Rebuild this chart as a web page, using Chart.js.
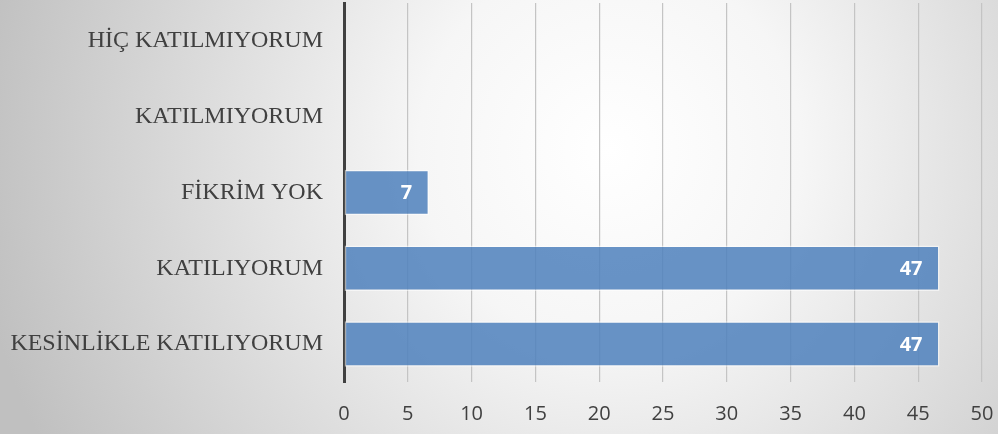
<!DOCTYPE html>
<html>
<head>
<meta charset="utf-8">
<script src="https://cdn.jsdelivr.net/npm/chart.js@4"></script>
<style>
  html, body { margin: 0; padding: 0; background: #fff; }
  #wrap { width: 998px; height: 434px; position: relative; }
</style>
</head>
<body>
<div id="wrap"><canvas id="c"></canvas></div>
<script>
// survey answers, top to bottom as shown
const categories = ["HİÇ KATILMIYORUM", "KATILMIYORUM", "FİKRİM YOK", "KATILIYORUM", "KESİNLİKLE KATILIYORUM"];
const percentValues = [0, 0, 6.67, 46.67, 46.67];
const xTicks = [0, 5, 10, 15, 20, 25, 30, 35, 40, 45, 50];

// soft radial background like the office chart style
const bgPlugin = {
  id: "bg",
  beforeDraw(chart){
    const { ctx, width, height } = chart;
    const g = ctx.createRadialGradient(610, 150, 0, 610, 150, 640);
    g.addColorStop(0, "#ffffff");
    g.addColorStop(0.3, "#f6f6f6");
    g.addColorStop(1, "#c0c0c0");
    ctx.save();
    ctx.fillStyle = g;
    ctx.fillRect(0, 0, width, height);
    ctx.restore();
  }
};

// white value labels at the inner end of each bar
const labelPlugin = {
  id: "barLabels",
  afterDatasetsDraw(chart){
    const { ctx } = chart;
    const meta = chart.getDatasetMeta(0);
    ctx.save();
    ctx.fillStyle = "#ffffff";
    ctx.font = "bold 20px 'Open Sans', sans-serif";
    ctx.textAlign = "right";
    ctx.textBaseline = "middle";
    meta.data.forEach((bar, i) => {
      const v = percentValues[i];
      if (!v) return;
      ctx.fillText(String(Math.round(v)), bar.x - 17, bar.y + 1);
    });
    ctx.restore();
  }
};

new Chart(document.getElementById("c"), {
  type: "bar",
  data: {
    labels: categories,
    datasets: [{
      data: percentValues,
      backgroundColor: "rgba(79,129,189,0.86)",
      borderColor: "rgba(255,255,255,0.55)",
      borderWidth: 1.5,
      borderSkipped: false,
      categoryPercentage: 1,
      barPercentage: 0.6
    }]
  },
  options: {
    indexAxis: "y",
    responsive: true,
    maintainAspectRatio: false,
    animation: false,
    layout: { padding: { top: 3, right: 16, bottom: 0, left: 0 } },
    plugins: { legend: { display: false }, tooltip: { enabled: false } },
    scales: {
      x: {
        min: 0,
        max: 50,
        afterBuildTicks(scale){ scale.ticks = xTicks.map(v => ({ value: v })); },
        afterFit(scale){
          scale.height = 52;
          scale.paddingLeft = 0;
          scale.paddingRight = 0;
        },
        grid: { color: "#c4c4c4", lineWidth: 1.2, drawTicks: false },
        border: { display: false },
        ticks: {
          padding: 20,
          color: "#404040",
          font: { family: "'Open Sans', sans-serif", size: 20 }
        }
      },
      y: {
        afterFit(scale){
          scale.width = 344;
          scale.paddingTop = 0;
          scale.paddingBottom = 0;
        },
        grid: { display: false, drawTicks: false },
        border: { display: true, color: "#404040", width: 3 },
        ticks: {
          padding: 21,
          color: "#404040",
          font: { family: "'Liberation Serif', 'Times New Roman', serif", size: 24 }
        }
      }
    }
  },
  plugins: [bgPlugin, labelPlugin]
});
</script>
</body>
</html>
